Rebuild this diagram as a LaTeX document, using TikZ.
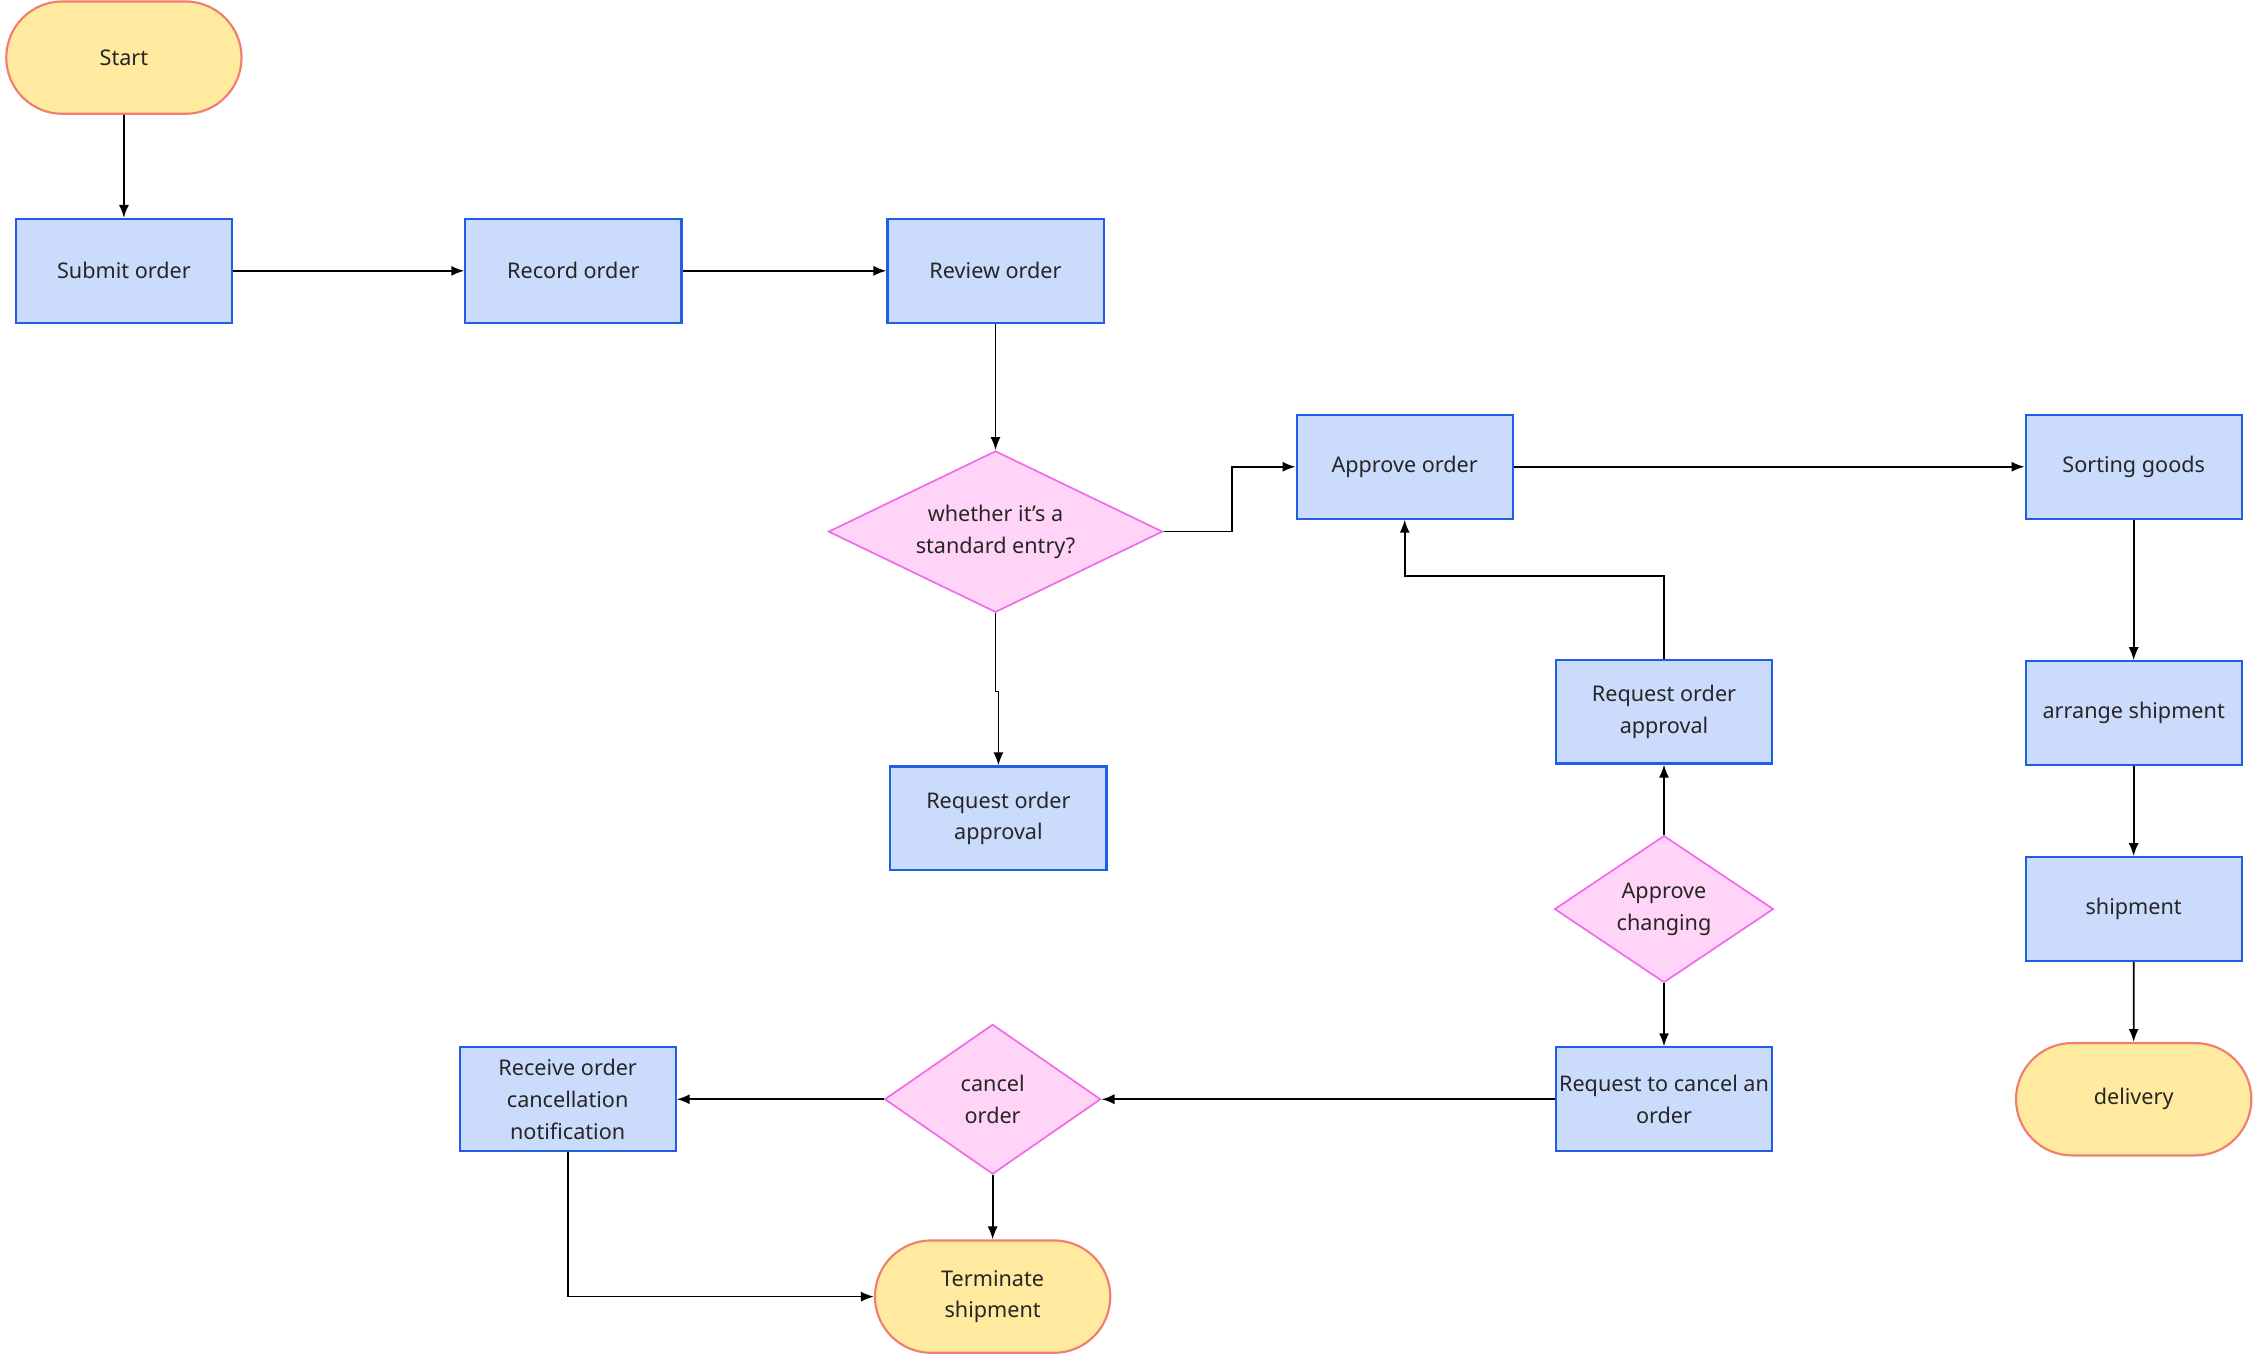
\documentclass[tikz,border=0pt]{standalone}
\usepackage{fontspec}
\setmainfont{Noto Sans}
\usetikzlibrary{shapes.geometric,shapes.misc,arrows.meta}
\definecolor{rf}{HTML}{CADBFC}\definecolor{rb}{HTML}{1F5FE8}
\definecolor{df}{HTML}{FFD4F6}\definecolor{db}{HTML}{F06CE8}
\definecolor{tf}{HTML}{FFEAA0}\definecolor{tb}{HTML}{F07F6F}
\begin{document}
\begin{tikzpicture}[x=1pt,y=-1pt,
 every node/.style={font=\fontsize{15}{22}\selectfont,text=black!85,align=center},
 box/.style={draw=rb,fill=rf,line width=1.5pt,minimum width=150pt,minimum height=72pt,inner sep=1pt},
 dia/.style={draw=db,fill=df,line width=1.2pt,diamond,aspect=#1,inner sep=0pt},
 term/.style={draw=tb,fill=tf,line width=1.5pt,rounded rectangle,minimum width=170pt,minimum height=78pt},
 ar/.style={-{Latex[length=9pt,width=7pt]},line width=1.2pt}]
\useasboundingbox (0,0) rectangle (1568,941);
\node[term] (start) at (86,40) {Start};
\node[box] (submit) at (86,188) {Submit order};
\node[box] (record) at (398,188) {Record order};
\node[box] (review) at (691,188) {Review order};
\node[dia=2.07,minimum width=232pt,minimum height=112pt] (std) at (691,369) {};
\node at (691,369) {whether it's a\\standard entry?};
\node[box] (reqL) at (693,568) {Request order\\approval};
\node[box] (approve) at (975,324) {Approve order};
\node[box] (sort) at (1481,324) {Sorting goods};
\node[box] (reqR) at (1155,494) {Request order\\approval};
\node[dia=1.49,minimum width=152pt,minimum height=102pt] (chg) at (1155,631) {};
\node at (1155,631) {Approve\\changing};
\node[box] (rcancel) at (1155,763) {Request to cancel an\\order};
\node[dia=1.44,minimum width=150pt,minimum height=104pt] (cancel) at (689,763) {};
\node at (689,763) {cancel\\order};
\node[box] (recv) at (394,763) {Receive order\\cancellation\\notification};
\node[term] (term) at (689,900) {Terminate\\shipment};
\node[box] (arr) at (1481,495) {arrange shipment};
\node[box] (ship) at (1481,631) {shipment};
\node[term] (deliv) at (1481,763) {delivery};
\draw[ar] (start) -- (submit);
\draw[ar] (submit) -- (record);
\draw[ar] (record) -- (review);
\draw[ar] (review) -- (std.north);
\draw[ar] (std.east) -- (855,369) -- (855,324) -- (approve.west);
\draw[ar] (std.south) -- (691,480) -- (693,480) -- (reqL.north);
\draw[ar] (approve) -- (sort);
\draw[ar] (sort) -- (arr);
\draw[ar] (arr) -- (ship);
\draw[ar] (ship) -- (deliv);
\draw[ar] (reqR.north) -- (1155,400) -- (975,400) -- (approve.south);
\draw[ar] (chg.north) -- (reqR.south);
\draw[ar] (chg.south) -- (rcancel.north);
\draw[ar] (rcancel.west) -- (cancel.east);
\draw[ar] (cancel.west) -- (recv.east);
\draw[ar] (cancel.south) -- (term.north);
\draw[ar] (recv.south) -- (394,900) -- (term.west);
\end{tikzpicture}
\end{document}
